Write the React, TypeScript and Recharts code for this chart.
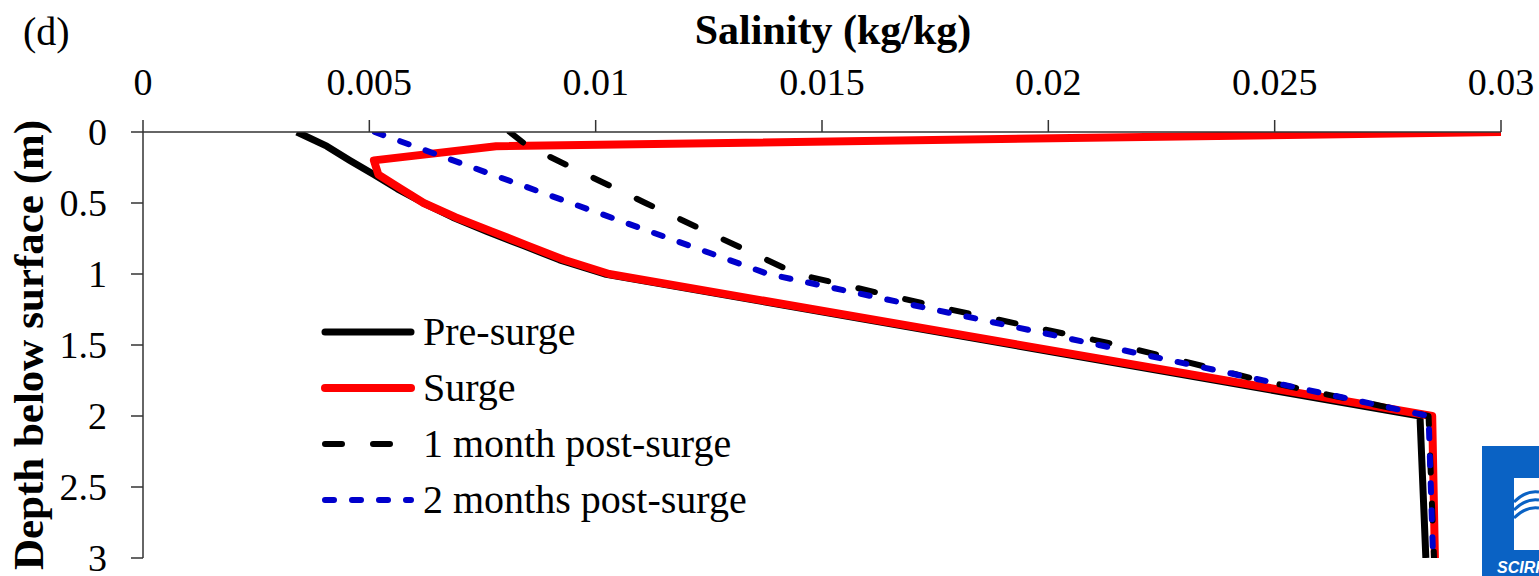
import React from 'react';
import { LineChart, Line, XAxis, YAxis, Legend, Label } from 'recharts';

const SERIF = "'Liberation Serif', 'Times New Roman', serif";

// Axis ticks
const salinityTicks = [0, 0.005, 0.01, 0.015, 0.02, 0.025, 0.03];
const depthTicks = [0, 0.5, 1, 1.5, 2, 2.5, 3];

// Pre-surge salinity profile (depth in m, salinity in kg/kg)
const preDepth = [0, 0.1, 0.2, 0.3, 0.4, 0.5, 0.6, 0.7, 0.8, 0.9, 1.0, 2.0, 3.0];
const preSalinity = [0.0034, 0.00406, 0.00457, 0.0051, 0.00562, 0.0062, 0.00684, 0.0076, 0.0084, 0.0092, 0.0102, 0.02821, 0.02834];

// Surge profile
const surgeDepth = [0, 0.1, 0.2, 0.3, 0.4, 0.5, 0.6, 0.7, 0.8, 0.9, 1.0, 2.0, 3.0];
const surgeSalinity = [0.03, 0.0078, 0.0051, 0.0052, 0.0057, 0.0062, 0.0069, 0.0077, 0.0085, 0.0093, 0.0103, 0.02848, 0.02854];

// 1 month after the surge
const month1Depth = [0, 0.1, 0.5, 1.0, 1.25, 1.5, 1.75, 2.0, 3.0];
const month1Salinity = [0.0081, 0.0085, 0.0111, 0.01445, 0.01783, 0.02154, 0.0247, 0.0284, 0.02852];

// 2 months after the surge
const month2Depth = [0, 0.5, 1.0, 1.5, 2.0, 3.0];
const month2Salinity = [0.00512, 0.00945, 0.01381, 0.02112, 0.0284, 0.0285];

const toRows = (depth: number[], sal: number[]) => depth.map((d, i) => ({ depth: d, sal: sal[i] }));

const SERIES = [
  { key: 'pre', name: 'Pre-surge', color: '#000000', width: 7, dash: undefined as string | undefined, cap: 'butt', data: toRows(preDepth, preSalinity) },
  { key: 'surge', name: 'Surge', color: '#ff0000', width: 8, dash: undefined as string | undefined, cap: 'butt', data: toRows(surgeDepth, surgeSalinity) },
  { key: 'm1', name: '1 month post-surge', color: '#000000', width: 6, dash: '17 31', cap: 'round', data: toRows(month1Depth, month1Salinity) },
  { key: 'm2', name: '2 months post-surge', color: '#0000cc', width: 6, dash: '9 18', cap: 'round', data: toRows(month2Depth, month2Salinity) },
];

const W = 1539;
const H = 576;
const AXIS = '#333333';

function SalinityTitle(props: any) {
  const vb = props.viewBox || { x: 0, y: 0, width: 0, height: 0 };
  return (
    <g>
      <text x={23} y={45} fontFamily={SERIF} fontSize={40} fill="#000">(d)</text>
      <text
        x={vb.x + vb.width / 2 + 11}
        y={44}
        textAnchor="middle"
        fontFamily={SERIF}
        fontWeight="bold"
        fontSize={42}
        fill="#000"
      >
        Salinity (kg/kg)
      </text>
    </g>
  );
}

function DepthTitle(props: any) {
  const vb = props.viewBox || { x: 0, y: 0, width: 0, height: 0 };
  const cx = 43;
  const cy = vb.y + vb.height / 2;
  return (
    <text
      x={cx}
      y={cy}
      transform={`rotate(-90 ${cx} ${cy})`}
      textAnchor="middle"
      fontFamily={SERIF}
      fontWeight="bold"
      fontSize={43}
      fill="#000"
    >
      Depth below surface (m)
    </text>
  );
}

function LegendBox() {
  return (
    <div style={{ display: 'flex', flexDirection: 'column' }}>
      {SERIES.map((s) => (
        <div key={s.key} style={{ display: 'flex', alignItems: 'center', height: 56 }}>
          <svg width={96} height={14} style={{ display: 'block' }}>
            <line
              x1={4}
              y1={7}
              x2={90}
              y2={7}
              stroke={s.color}
              strokeWidth={s.width}
              strokeDasharray={s.dash}
              strokeLinecap="round"
            />
          </svg>
          <span style={{ fontFamily: SERIF, fontSize: 40, lineHeight: 1, color: '#000', whiteSpace: 'nowrap', marginLeft: 6 }}>
            {s.name}
          </span>
        </div>
      ))}
    </div>
  );
}

function PublisherMark() {
  return (
    <svg width={57} height={130} style={{ position: 'absolute', left: 1482, top: 446 }}>
      <rect x={0} y={0} width={57} height={130} fill="#0a62c4" />
      <rect x={32} y={32} width={25} height={72} fill="#ffffff" />
      <path d="M32 56 Q44 44 57 46" stroke="#0a62c4" strokeWidth={3} fill="none" />
      <path d="M32 64 Q44 52 57 54" stroke="#0a62c4" strokeWidth={3} fill="none" />
      <path d="M32 72 Q44 60 57 62" stroke="#0a62c4" strokeWidth={3} fill="none" />
      <text x={15} y={127} fontFamily="'Liberation Sans', Arial, sans-serif" fontWeight="bold" fontStyle="italic" fontSize={16} fill="#ffffff">
        SCIRP
      </text>
    </svg>
  );
}

export default function App() {
  return (
    <div style={{ position: 'absolute', left: 0, top: 0, width: W, height: H, background: '#ffffff', overflow: 'hidden' }}>
      <LineChart width={W} height={H} layout="vertical" margin={{ top: 0, right: 38, bottom: 18, left: 0 }}>
        <XAxis
          type="number"
          orientation="top"
          domain={[0, 0.03]}
          ticks={salinityTicks}
          interval={0}
          allowDataOverflow
          height={132}
          tickSize={12}
          tickMargin={25}
          axisLine={{ stroke: AXIS, strokeWidth: 1.5 }}
          tickLine={{ stroke: AXIS, strokeWidth: 1.5 }}
          tick={{ fill: '#000', fontSize: 38, fontFamily: SERIF }}
        >
          <Label content={SalinityTitle} />
        </XAxis>
        <YAxis
          type="number"
          dataKey="depth"
          domain={[0, 3]}
          ticks={depthTicks}
          interval={0}
          allowDataOverflow
          width={143}
          tickSize={12}
          tickMargin={24}
          axisLine={{ stroke: AXIS, strokeWidth: 1.5 }}
          tickLine={{ stroke: AXIS, strokeWidth: 1.5 }}
          tick={{ fill: '#000', fontSize: 38, fontFamily: SERIF }}
        >
          <Label content={DepthTitle} />
        </YAxis>
        <Legend
          layout="vertical"
          align="center"
          verticalAlign="middle"
          wrapperStyle={{ left: 321, top: 304, width: 520, height: 230 }}
          content={LegendBox}
        />
        {SERIES.map((s) => (
          <Line
            key={s.key}
            data={s.data}
            dataKey="sal"
            name={s.name}
            type="linear"
            stroke={s.color}
            strokeWidth={s.width}
            strokeDasharray={s.dash}
            strokeLinecap={s.cap as any}
            strokeLinejoin="round"
            dot={false}
            activeDot={false}
            isAnimationActive={false}
          />
        ))}
      </LineChart>
      <PublisherMark />
    </div>
  );
}
